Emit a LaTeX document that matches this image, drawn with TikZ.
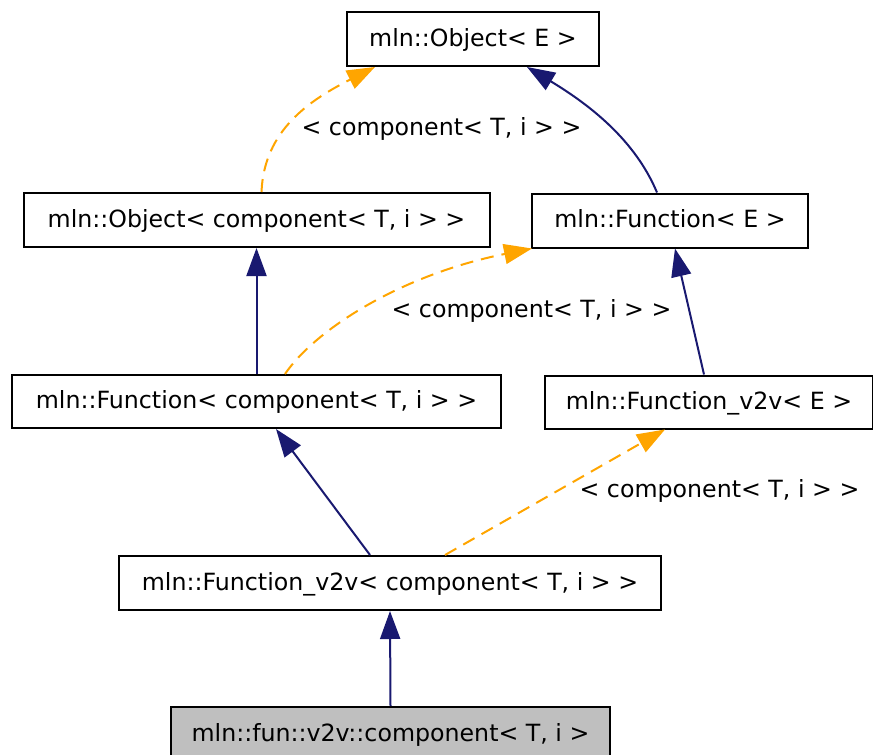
\documentclass[tikz,border=0pt]{standalone}
\usepackage{fontspec}
\setmainfont{DejaVu Sans}
\usetikzlibrary{arrows.meta}
\definecolor{edgeblue}{HTML}{191970}
\definecolor{edgeorange}{HTML}{FFA500}
\definecolor{compgray}{HTML}{BFBFBF}
\begin{document}
\begin{tikzpicture}[x=1pt,y=-1pt,
  classbox/.style={draw=black, line width=2pt, fill=white, inner sep=0pt,
    minimum height=54pt, text height=20pt, text depth=6pt,
    font=\fontsize{23.7pt}{28pt}\selectfont},
  lbl/.style={inner sep=0pt, text height=20pt, text depth=6pt,
    font=\fontsize{23.7pt}{28pt}\selectfont},
  inh/.style={color=edgeblue, line width=2pt, -{Triangle[length=28pt,width=20pt]}},
  tmpl/.style={color=edgeorange, line width=2pt, dash pattern=on 13pt off 8pt,
    -{Triangle[length=28pt,width=20pt]}}]
\useasboundingbox (0,0) rectangle (873,755);
\clip (0,0) rectangle (873,755);

\node[classbox, minimum width=252pt] (objE) at (473,39) {mln::Object< E >};
\node[classbox, minimum width=466pt] (objC) at (256.5,220) {mln::Object< component< T, i > >};
\node[classbox, minimum width=276pt] (funcE) at (670,220.5) {mln::Function< E >};
\node[classbox, minimum width=489pt, minimum height=53pt] (funcC) at (256.5,401.5) {mln::Function< component< T, i > >};
\node[classbox, minimum width=328pt, minimum height=53pt] (fvE) at (709,402) {mln::Function\_v2v< E >};
\node[classbox, minimum width=542pt] (fvC) at (390,583) {mln::Function\_v2v< component< T, i > >};
\node[classbox, fill=compgray, minimum width=439pt] (comp) at (390.5,734) {mln::fun::v2v::component< T, i >};

\node[lbl] (l1) at (441.5,128) {< component< T, i > >};
\node[lbl] (l2) at (531.5,310) {< component< T, i > >};
\node[lbl] (l3) at (719.5,490) {< component< T, i > >};

\draw[tmpl] ([xshift=5pt]objC.north) .. controls (264,130) and (310,100) .. ([xshift=-98pt]objE.south);
\draw[inh] ([xshift=-13pt]funcE.north) .. controls (635,140) and (590,105) .. ([xshift=54pt]objE.south);
\draw[inh] (funcC.north) -- (objC.south);
\draw[tmpl] ([xshift=28.5pt]funcC.north) .. controls (315,330) and (400,275) .. ([xshift=1pt]funcE.south west);
\draw[inh] ([xshift=-20pt]fvC.north) -- ([xshift=19.5pt]funcC.south);
\draw[tmpl] ([xshift=55pt]fvC.north) -- ([xshift=-44pt]fvE.south);
\draw[inh] ([xshift=-5pt]fvE.north) -- ([xshift=5pt]funcE.south);
\draw[inh] (comp.north) -- (fvC.south);
\end{tikzpicture}
\end{document}
